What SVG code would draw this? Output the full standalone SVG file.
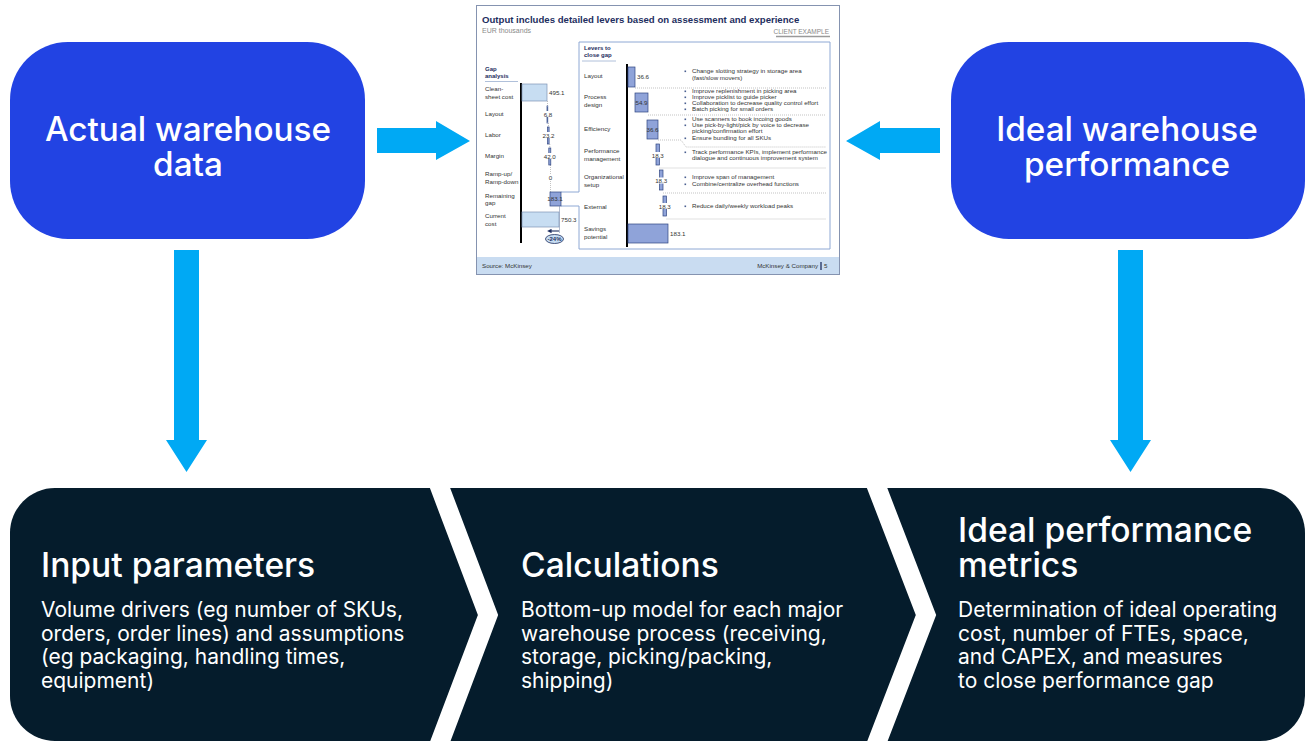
<svg xmlns="http://www.w3.org/2000/svg" width="1308" height="742" viewBox="0 0 1308 742">
  <defs>
    <style>
      .hero { font-family: Inter, "Liberation Sans", Arial, sans-serif; font-weight: 500; fill: #ffffff; font-size: 33.3px; text-anchor: middle; }
      .stepTitle { font-family: Inter, "Liberation Sans", Arial, sans-serif; font-weight: 500; fill: #ffffff; font-size: 33.6px; }
      .stepBody { font-family: Inter, "Liberation Sans", Arial, sans-serif; font-weight: 400; fill: #ffffff; font-size: 21px; }
      .flow { fill: #00A9F4; }
      .s { font-family: "Liberation Sans", Arial, sans-serif; font-size: 6.2px; fill: #333333; }
      .sb { font-family: "Liberation Sans", Arial, sans-serif; font-size: 6px; font-weight: bold; fill: #1E2E60; }
      .mid { text-anchor: middle; }
      .lite { fill: #C7DDF2; stroke: #7F93B5; stroke-width: 0.7; }
      .bar { fill: #8FA3D9; stroke: #2F4580; stroke-width: 0.7; }
      .dot { fill: none; stroke: #9A9A9A; stroke-width: 0.6; stroke-dasharray: 1 1; }
      .bul { fill: #4A5F90; }
    </style>
    <marker id="tipL" markerWidth="4" markerHeight="4" refX="0.5" refY="2" orient="auto-start-reverse" markerUnits="strokeWidth">
      <path d="M0,0 L4,2 L0,4 Z" fill="#1E2E60"/>
    </marker>
  </defs>

  <rect width="1308" height="742" fill="#ffffff"/>

  <!-- Source boxes -->
  <g id="actual-data">
    <rect x="10" y="42" width="355" height="197" rx="58" fill="#2243E3"/>
    <text class="hero" x="188" y="141">Actual warehouse</text>
    <text class="hero" x="188" y="176">data</text>
  </g>
  <g id="ideal-performance">
    <rect x="951" y="42" width="354" height="197" rx="58" fill="#2243E3"/>
    <text class="hero" x="1127" y="141">Ideal warehouse</text>
    <text class="hero" x="1127" y="176">performance</text>
  </g>

  <!-- Example output slide -->
  <g id="example-slide">
    <rect x="476.5" y="5.5" width="363" height="269" fill="#ffffff" stroke="#8593B0" stroke-width="1"/>
    <text x="482" y="23" font-family="Liberation Sans, Arial, sans-serif" font-size="9.6" font-weight="bold" fill="#1E2E60">Output includes detailed levers based on assessment and experience</text>
    <text x="482" y="33" font-family="Liberation Sans, Arial, sans-serif" font-size="7" fill="#8A8A8A">EUR thousands</text>
    <text x="829" y="34" text-anchor="end" font-family="Liberation Sans, Arial, sans-serif" font-size="6.5" fill="#8A8A8A">CLIENT EXAMPLE</text>
    <line x1="776" y1="36.5" x2="830" y2="36.5" stroke="#9A9A9A" stroke-width="1.4"/>

    <!-- levers panel with callout to the remaining gap -->
    <path d="M561,206 H579 V249 H830 V42 H579 V192 H561" fill="none" stroke="#8EA8D4" stroke-width="1"/>
    <text class="sb" x="584" y="50">Levers to</text>
    <text class="sb" x="584" y="57">close gap</text>
    <line x1="582" y1="61" x2="616" y2="61" stroke="#9CB0D0" stroke-width="0.8"/>

    <!-- gap analysis -->
    <text class="sb" x="485" y="71">Gap</text>
    <text class="sb" x="485" y="78">analysis</text>
    <line x1="485" y1="81.5" x2="518" y2="81.5" stroke="#9CB0D0" stroke-width="0.8"/>
    <line x1="521" y1="83" x2="521" y2="243" stroke="#000000" stroke-width="2"/>

    <text class="s" x="485" y="91">Clean-</text>
    <text class="s" x="485" y="99">sheet cost</text>
    <text class="s" x="485" y="116">Layout</text>
    <text class="s" x="485" y="137">Labor</text>
    <text class="s" x="485" y="158">Margin</text>
    <text class="s" x="485" y="176">Ramp-up/</text>
    <text class="s" x="485" y="184">Ramp-down</text>
    <text class="s" x="485" y="198">Remaining</text>
    <text class="s" x="485" y="205">gap</text>
    <text class="s" x="485" y="218">Current</text>
    <text class="s" x="485" y="226">cost</text>

    <rect class="lite" x="522" y="84" width="25" height="17"/>
    <text class="s" x="549" y="95">495.1</text>
    <path class="dot" d="M547.5,101 V106 M548.5,123 V127 M549.8,144 V148 M550.5,165 V192"/>
    <rect class="bar" x="547" y="106" width="0.8" height="17"/>
    <rect x="543" y="111" width="10" height="6" fill="#ffffff"/>
    <text class="s mid" x="548" y="116.5">6.8</text>
    <rect class="bar" x="547.6" y="127" width="1.5" height="17"/>
    <rect x="542" y="132" width="13" height="6" fill="#ffffff"/>
    <text class="s mid" x="548.5" y="137.5">23.2</text>
    <rect class="bar" x="548.8" y="148" width="2" height="17"/>
    <rect x="543" y="153" width="13" height="6" fill="#ffffff"/>
    <text class="s mid" x="549.8" y="158.5">42.0</text>
    <rect x="548" y="174" width="5" height="6" fill="#ffffff"/>
    <text class="s mid" x="550.5" y="179.5">0</text>
    <rect class="bar" x="550" y="192" width="11" height="14" stroke="#5A6FA8"/>
    <text class="s mid" x="555" y="201" fill="#1E2E60">183.1</text>
    <rect class="lite" x="522" y="212" width="37" height="15"/>
    <text class="s" x="561" y="222">750.3</text>
    <line x1="559.5" y1="206" x2="559.5" y2="233" stroke="#8090B0" stroke-width="0.6"/>
    <line x1="559" y1="231" x2="551" y2="231" stroke="#1E2E60" stroke-width="1.1" marker-end="url(#tipL)"/>
    <ellipse cx="554.5" cy="239" rx="9" ry="4.5" fill="#C7DDF2" stroke="#1E2E60" stroke-width="0.8"/>
    <text class="sb mid" x="554.5" y="241" font-size="5.2">-24%</text>

    <!-- levers waterfall -->
    <line x1="627" y1="64" x2="627" y2="247" stroke="#000000" stroke-width="2"/>
    <text class="s" x="584" y="78">Layout</text>
    <text class="s" x="584" y="99">Process</text>
    <text class="s" x="584" y="107">design</text>
    <text class="s" x="584" y="131">Efficiency</text>
    <text class="s" x="584" y="153">Performance</text>
    <text class="s" x="584" y="161">management</text>
    <text class="s" x="584" y="179">Organizational</text>
    <text class="s" x="584" y="187">setup</text>
    <text class="s" x="584" y="209">External</text>
    <text class="s" x="584" y="231">Savings</text>
    <text class="s" x="584" y="239">potential</text>

    <path class="dot" d="M635,88 H826 M648,115 H826 M658,140 H681 L686,147 H826 M659.5,168 H826 M663,193 H826 M666.5,219 H826"/>

    <rect class="bar" x="628" y="67" width="7" height="20"/>
    <text class="s" x="637" y="79">36.6</text>
    <rect class="bar" x="635" y="93" width="13" height="19"/>
    <text class="s mid" x="641.5" y="104.5">54.9</text>
    <rect class="bar" x="647" y="120" width="11" height="19"/>
    <text class="s mid" x="652.5" y="131.5">36.6</text>
    <rect class="bar" x="656" y="144" width="3.5" height="21"/>
    <rect x="651" y="152" width="13" height="6" fill="#ffffff"/>
    <text class="s mid" x="657.8" y="157.5">18.3</text>
    <rect class="bar" x="659.5" y="170" width="3.5" height="20"/>
    <rect x="654.5" y="177.5" width="13" height="6" fill="#ffffff"/>
    <text class="s mid" x="661.2" y="183">18.3</text>
    <rect class="bar" x="663" y="196" width="3.5" height="20"/>
    <rect x="658" y="203" width="13" height="6" fill="#ffffff"/>
    <text class="s mid" x="664.8" y="208.5">18.3</text>
    <rect class="bar" x="628" y="224" width="40" height="19"/>
    <text class="s" x="670" y="236">183.1</text>

    <!-- lever descriptions -->
    <g>
      <rect class="bul" x="684.5" y="70.5" width="1.6" height="1.6"/>
      <rect class="bul" x="684.5" y="90.5" width="1.6" height="1.6"/>
      <rect class="bul" x="684.5" y="96.5" width="1.6" height="1.6"/>
      <rect class="bul" x="684.5" y="102.5" width="1.6" height="1.6"/>
      <rect class="bul" x="684.5" y="108.5" width="1.6" height="1.6"/>
      <rect class="bul" x="684.5" y="118.5" width="1.6" height="1.6"/>
      <rect class="bul" x="684.5" y="124.5" width="1.6" height="1.6"/>
      <rect class="bul" x="684.5" y="137.5" width="1.6" height="1.6"/>
      <rect class="bul" x="684.5" y="151.5" width="1.6" height="1.6"/>
      <rect class="bul" x="684.5" y="176.5" width="1.6" height="1.6"/>
      <rect class="bul" x="684.5" y="183.5" width="1.6" height="1.6"/>
      <rect class="bul" x="684.5" y="205.5" width="1.6" height="1.6"/>
    </g>
    <text class="s" x="692" y="73">Change slotting strategy in storage area</text>
    <text class="s" x="692" y="80">(fast/slow movers)</text>
    <text class="s" x="692" y="93">Improve replenishment in picking area</text>
    <text class="s" x="692" y="99">Improve picklist to guide picker</text>
    <text class="s" x="692" y="105">Collaboration to decrease quality control effort</text>
    <text class="s" x="692" y="111">Batch picking for small orders</text>
    <text class="s" x="692" y="121">Use scanners to book incoing goods</text>
    <text class="s" x="692" y="127">Use pick-by-light/pick by voice to decrease</text>
    <text class="s" x="692" y="133">picking/confirmation effort</text>
    <text class="s" x="692" y="140">Ensure bundling for all SKUs</text>
    <text class="s" x="692" y="154">Track performance KPIs, implement performance</text>
    <text class="s" x="692" y="160">dialogue and continuous improvement system</text>
    <text class="s" x="692" y="179">Improve span of management</text>
    <text class="s" x="692" y="186">Combine/centralize overhead functions</text>
    <text class="s" x="692" y="208">Reduce daily/weekly workload peaks</text>

    <!-- footer -->
    <rect x="477" y="257" width="362" height="17" fill="#C9DCF1"/>
    <text class="s" x="482" y="268">Source: McKinsey</text>
    <text class="s" x="818" y="268" text-anchor="end" font-size="5.5">McKinsey &amp; Company</text>
    <line x1="821" y1="262" x2="821" y2="270" stroke="#1E2E60" stroke-width="1.3"/>
    <text class="s" x="824" y="268" font-size="5.5">5</text>
  </g>

  <!-- Connectors -->
  <g id="connectors">
    <polygon class="flow" points="377,128 436,128 436,121 470,141 436,160 436,153 377,153"/>
    <polygon class="flow" points="940,128 880,128 880,121 846,141 880,160 880,153 940,153"/>
    <polygon class="flow" points="174,250 199,250 199,440 207,440 186.5,472 166,440 174,440"/>
    <polygon class="flow" points="1118,250 1143,250 1143,440 1151,440 1130.5,472 1110,440 1118,440"/>
  </g>

  <!-- Process steps band -->
  <g id="process-band">
    <rect x="10" y="488" width="1295" height="253" rx="45" fill="#051C2C"/>
    <polyline points="437,480 488,615 437,750" fill="none" stroke="#ffffff" stroke-width="19" stroke-linejoin="miter"/>
    <polyline points="874,480 926,615 874,750" fill="none" stroke="#ffffff" stroke-width="19" stroke-linejoin="miter"/>
  </g>
  <g id="input-parameters">
    <text class="stepTitle" x="41" y="577">Input parameters</text>
    <text class="stepBody" x="41" y="617">Volume drivers (eg number of SKUs,</text>
    <text class="stepBody" x="41" y="641">orders, order lines) and assumptions</text>
    <text class="stepBody" x="41" y="664">(eg packaging, handling times,</text>
    <text class="stepBody" x="41" y="688">equipment)</text>
  </g>
  <g id="calculations">
    <text class="stepTitle" x="521" y="577">Calculations</text>
    <text class="stepBody" x="521" y="617">Bottom-up model for each major</text>
    <text class="stepBody" x="521" y="641">warehouse process (receiving,</text>
    <text class="stepBody" x="521" y="664">storage, picking/packing,</text>
    <text class="stepBody" x="521" y="688">shipping)</text>
  </g>
  <g id="ideal-metrics">
    <text class="stepTitle" x="958" y="542">Ideal performance</text>
    <text class="stepTitle" x="958" y="577">metrics</text>
    <text class="stepBody" x="958" y="617">Determination of ideal operating</text>
    <text class="stepBody" x="958" y="641">cost, number of FTEs, space,</text>
    <text class="stepBody" x="958" y="664">and CAPEX, and measures</text>
    <text class="stepBody" x="958" y="688">to close performance gap</text>
  </g>
</svg>
